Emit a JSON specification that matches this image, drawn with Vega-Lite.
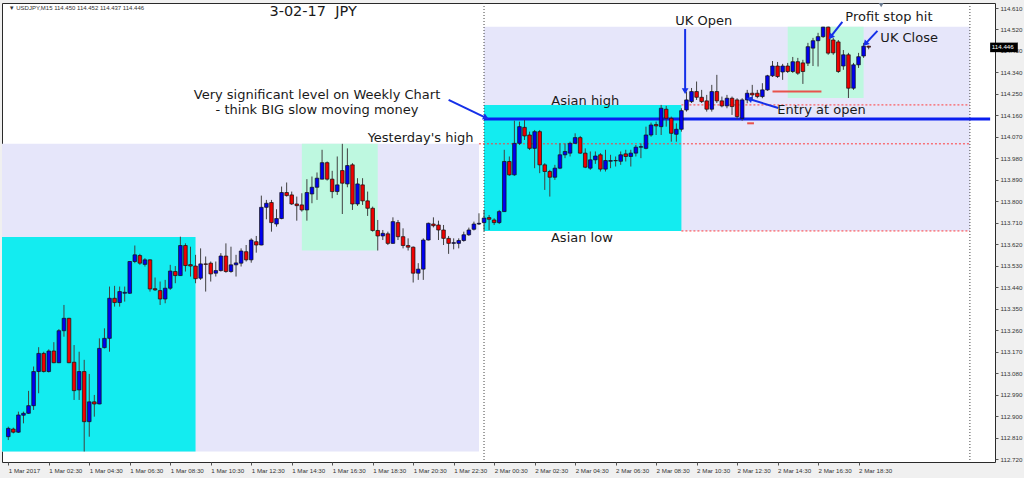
{
"$schema":"https://vega.github.io/schema/vega-lite/v6.json",
"width":993,"height":459,"autosize":"none",
"padding":{"left":2,"top":3,"right":29,"bottom":16},
"background":"#F0F0F0",
"config":{"view":{"fill":"#FFFFFF","stroke":"#2a2a2a","strokeWidth":1},
"axis":{"grid":false,"domain":false,"title":null,"labelFont":"Liberation Sans","labelFontSize":6.2,"labelColor":"#333333","tickColor":"#555555","tickSize":3,"labelOverlap":false,"labelFlush":false,"tickCount":60},
"text":{"font":"DejaVu Sans"}},
"datasets":{
"candles":[
{"t":"2017-03-01 00:30","o":112.814,"h":112.856,"l":112.800,"c":112.849},
{"t":"2017-03-01 00:45","o":112.846,"h":112.852,"l":112.828,"c":112.833},
{"t":"2017-03-01 01:00","o":112.833,"h":112.919,"l":112.830,"c":112.905},
{"t":"2017-03-01 01:15","o":112.904,"h":112.919,"l":112.870,"c":112.912},
{"t":"2017-03-01 01:30","o":112.912,"h":113.006,"l":112.910,"c":112.944},
{"t":"2017-03-01 01:45","o":112.944,"h":113.108,"l":112.926,"c":113.087},
{"t":"2017-03-01 02:00","o":113.087,"h":113.189,"l":112.996,"c":113.163},
{"t":"2017-03-01 02:15","o":113.163,"h":113.170,"l":113.083,"c":113.087},
{"t":"2017-03-01 02:30","o":113.087,"h":113.180,"l":113.083,"c":113.173},
{"t":"2017-03-01 02:45","o":113.173,"h":113.210,"l":113.122,"c":113.124},
{"t":"2017-03-01 03:00","o":113.124,"h":113.265,"l":113.122,"c":113.258},
{"t":"2017-03-01 03:15","o":113.258,"h":113.366,"l":113.233,"c":113.310},
{"t":"2017-03-01 03:30","o":113.310,"h":113.312,"l":113.122,"c":113.124},
{"t":"2017-03-01 03:45","o":113.126,"h":113.198,"l":112.968,"c":113.007},
{"t":"2017-03-01 04:00","o":113.010,"h":113.170,"l":112.968,"c":113.087},
{"t":"2017-03-01 04:15","o":113.087,"h":113.136,"l":112.752,"c":112.877},
{"t":"2017-03-01 04:30","o":112.877,"h":113.077,"l":112.814,"c":112.960},
{"t":"2017-03-01 04:45","o":112.960,"h":112.989,"l":112.898,"c":112.951},
{"t":"2017-03-01 05:00","o":112.951,"h":113.226,"l":112.950,"c":113.184},
{"t":"2017-03-01 05:15","o":113.187,"h":113.268,"l":113.184,"c":113.226},
{"t":"2017-03-01 05:30","o":113.226,"h":113.443,"l":113.170,"c":113.394},
{"t":"2017-03-01 05:45","o":113.394,"h":113.446,"l":113.359,"c":113.376},
{"t":"2017-03-01 06:00","o":113.376,"h":113.443,"l":113.359,"c":113.422},
{"t":"2017-03-01 06:15","o":113.415,"h":113.443,"l":113.380,"c":113.419},
{"t":"2017-03-01 06:30","o":113.415,"h":113.549,"l":113.412,"c":113.548},
{"t":"2017-03-01 06:45","o":113.548,"h":113.615,"l":113.541,"c":113.576},
{"t":"2017-03-01 07:00","o":113.573,"h":113.580,"l":113.534,"c":113.541},
{"t":"2017-03-01 07:15","o":113.536,"h":113.562,"l":113.527,"c":113.555},
{"t":"2017-03-01 07:30","o":113.555,"h":113.557,"l":113.422,"c":113.433},
{"t":"2017-03-01 07:45","o":113.434,"h":113.481,"l":113.425,"c":113.429},
{"t":"2017-03-01 08:00","o":113.426,"h":113.464,"l":113.366,"c":113.391},
{"t":"2017-03-01 08:15","o":113.391,"h":113.471,"l":113.373,"c":113.436},
{"t":"2017-03-01 08:30","o":113.436,"h":113.534,"l":113.429,"c":113.508},
{"t":"2017-03-01 08:45","o":113.506,"h":113.529,"l":113.457,"c":113.489},
{"t":"2017-03-01 09:00","o":113.489,"h":113.652,"l":113.488,"c":113.615},
{"t":"2017-03-01 09:15","o":113.615,"h":113.624,"l":113.506,"c":113.531},
{"t":"2017-03-01 09:30","o":113.535,"h":113.610,"l":113.485,"c":113.529},
{"t":"2017-03-01 09:45","o":113.529,"h":113.576,"l":113.457,"c":113.476},
{"t":"2017-03-01 10:00","o":113.478,"h":113.603,"l":113.471,"c":113.538},
{"t":"2017-03-01 10:15","o":113.538,"h":113.569,"l":113.422,"c":113.536},
{"t":"2017-03-01 10:30","o":113.541,"h":113.548,"l":113.464,"c":113.496},
{"t":"2017-03-01 10:45","o":113.499,"h":113.548,"l":113.485,"c":113.510},
{"t":"2017-03-01 11:00","o":113.510,"h":113.583,"l":113.506,"c":113.571},
{"t":"2017-03-01 11:15","o":113.571,"h":113.624,"l":113.501,"c":113.506},
{"t":"2017-03-01 11:30","o":113.506,"h":113.610,"l":113.501,"c":113.534},
{"t":"2017-03-01 11:45","o":113.534,"h":113.576,"l":113.485,"c":113.542},
{"t":"2017-03-01 12:00","o":113.541,"h":113.603,"l":113.527,"c":113.592},
{"t":"2017-03-01 12:15","o":113.589,"h":113.617,"l":113.548,"c":113.555},
{"t":"2017-03-01 12:30","o":113.555,"h":113.645,"l":113.543,"c":113.638},
{"t":"2017-03-01 12:45","o":113.631,"h":113.655,"l":113.585,"c":113.617},
{"t":"2017-03-01 13:00","o":113.617,"h":113.824,"l":113.616,"c":113.775},
{"t":"2017-03-01 13:15","o":113.775,"h":113.806,"l":113.725,"c":113.792},
{"t":"2017-03-01 13:30","o":113.795,"h":113.806,"l":113.673,"c":113.711},
{"t":"2017-03-01 13:45","o":113.705,"h":113.767,"l":113.694,"c":113.728},
{"t":"2017-03-01 14:00","o":113.728,"h":113.862,"l":113.725,"c":113.837},
{"t":"2017-03-01 14:15","o":113.837,"h":113.879,"l":113.820,"c":113.824},
{"t":"2017-03-01 14:30","o":113.827,"h":113.841,"l":113.785,"c":113.789},
{"t":"2017-03-01 14:45","o":113.789,"h":113.820,"l":113.719,"c":113.782},
{"t":"2017-03-01 15:00","o":113.785,"h":113.834,"l":113.757,"c":113.764},
{"t":"2017-03-01 15:15","o":113.764,"h":113.893,"l":113.719,"c":113.837},
{"t":"2017-03-01 15:30","o":113.831,"h":113.904,"l":113.792,"c":113.859},
{"t":"2017-03-01 15:45","o":113.859,"h":113.921,"l":113.806,"c":113.897},
{"t":"2017-03-01 16:00","o":113.893,"h":114.016,"l":113.892,"c":113.962},
{"t":"2017-03-01 16:15","o":113.962,"h":113.967,"l":113.887,"c":113.893},
{"t":"2017-03-01 16:30","o":113.893,"h":113.928,"l":113.813,"c":113.841},
{"t":"2017-03-01 16:45","o":113.841,"h":113.988,"l":113.827,"c":113.869},
{"t":"2017-03-01 17:00","o":113.929,"h":114.041,"l":113.747,"c":113.876},
{"t":"2017-03-01 17:15","o":113.873,"h":114.022,"l":113.859,"c":113.950},
{"t":"2017-03-01 17:30","o":113.953,"h":113.960,"l":113.764,"c":113.789},
{"t":"2017-03-01 17:45","o":113.789,"h":113.897,"l":113.781,"c":113.873},
{"t":"2017-03-01 18:00","o":113.869,"h":113.897,"l":113.785,"c":113.802},
{"t":"2017-03-01 18:15","o":113.802,"h":113.841,"l":113.739,"c":113.771},
{"t":"2017-03-01 18:30","o":113.771,"h":113.778,"l":113.673,"c":113.678},
{"t":"2017-03-01 18:45","o":113.678,"h":113.722,"l":113.594,"c":113.655},
{"t":"2017-03-01 19:00","o":113.655,"h":113.680,"l":113.638,"c":113.666},
{"t":"2017-03-01 19:15","o":113.664,"h":113.673,"l":113.617,"c":113.624},
{"t":"2017-03-01 19:30","o":113.624,"h":113.733,"l":113.622,"c":113.715},
{"t":"2017-03-01 19:45","o":113.711,"h":113.722,"l":113.638,"c":113.652},
{"t":"2017-03-01 20:00","o":113.652,"h":113.687,"l":113.603,"c":113.615},
{"t":"2017-03-01 20:15","o":113.615,"h":113.645,"l":113.594,"c":113.608},
{"t":"2017-03-01 20:30","o":113.608,"h":113.611,"l":113.460,"c":113.499},
{"t":"2017-03-01 20:45","o":113.499,"h":113.541,"l":113.471,"c":113.516},
{"t":"2017-03-01 21:00","o":113.516,"h":113.645,"l":113.471,"c":113.638},
{"t":"2017-03-01 21:15","o":113.638,"h":113.711,"l":113.636,"c":113.708},
{"t":"2017-03-01 21:30","o":113.705,"h":113.733,"l":113.691,"c":113.698},
{"t":"2017-03-01 21:45","o":113.701,"h":113.719,"l":113.638,"c":113.680},
{"t":"2017-03-01 22:00","o":113.680,"h":113.701,"l":113.617,"c":113.645},
{"t":"2017-03-01 22:15","o":113.645,"h":113.655,"l":113.580,"c":113.624},
{"t":"2017-03-01 22:30","o":113.624,"h":113.645,"l":113.599,"c":113.627},
{"t":"2017-03-01 22:45","o":113.624,"h":113.645,"l":113.603,"c":113.636},
{"t":"2017-03-01 23:00","o":113.636,"h":113.673,"l":113.631,"c":113.660},
{"t":"2017-03-01 23:15","o":113.660,"h":113.690,"l":113.655,"c":113.680},
{"t":"2017-03-01 23:30","o":113.683,"h":113.715,"l":113.678,"c":113.705},
{"t":"2017-03-01 23:45","o":113.705,"h":113.750,"l":113.701,"c":113.708},
{"t":"2017-03-02 00:00","o":113.711,"h":113.764,"l":113.676,"c":113.730},
{"t":"2017-03-02 00:15","o":113.732,"h":113.743,"l":113.680,"c":113.725},
{"t":"2017-03-02 00:30","o":113.722,"h":113.729,"l":113.701,"c":113.711},
{"t":"2017-03-02 00:45","o":113.711,"h":113.764,"l":113.705,"c":113.757},
{"t":"2017-03-02 01:00","o":113.757,"h":114.016,"l":113.756,"c":113.967},
{"t":"2017-03-02 01:15","o":113.967,"h":113.988,"l":113.907,"c":113.911},
{"t":"2017-03-02 01:30","o":113.911,"h":114.138,"l":113.907,"c":114.043},
{"t":"2017-03-02 01:45","o":114.043,"h":114.134,"l":114.036,"c":114.113},
{"t":"2017-03-02 02:00","o":114.110,"h":114.141,"l":114.057,"c":114.074},
{"t":"2017-03-02 02:15","o":114.078,"h":114.092,"l":114.015,"c":114.022},
{"t":"2017-03-02 02:30","o":114.022,"h":114.099,"l":113.939,"c":114.092},
{"t":"2017-03-02 02:45","o":114.092,"h":114.099,"l":113.918,"c":113.953},
{"t":"2017-03-02 03:00","o":113.953,"h":113.960,"l":113.848,"c":113.925},
{"t":"2017-03-02 03:15","o":113.925,"h":113.932,"l":113.820,"c":113.901},
{"t":"2017-03-02 03:30","o":113.901,"h":113.953,"l":113.890,"c":113.939},
{"t":"2017-03-02 03:45","o":113.939,"h":114.043,"l":113.935,"c":113.995},
{"t":"2017-03-02 04:00","o":113.995,"h":114.043,"l":113.981,"c":114.009},
{"t":"2017-03-02 04:15","o":114.002,"h":114.050,"l":113.988,"c":114.043},
{"t":"2017-03-02 04:30","o":114.043,"h":114.085,"l":114.041,"c":114.067},
{"t":"2017-03-02 04:45","o":114.067,"h":114.074,"l":113.999,"c":114.002},
{"t":"2017-03-02 05:00","o":114.002,"h":114.022,"l":113.939,"c":113.943},
{"t":"2017-03-02 05:15","o":113.939,"h":114.009,"l":113.932,"c":113.974},
{"t":"2017-03-02 05:30","o":113.974,"h":114.009,"l":113.957,"c":113.990},
{"t":"2017-03-02 05:45","o":113.995,"h":114.002,"l":113.925,"c":113.935},
{"t":"2017-03-02 06:00","o":113.935,"h":114.016,"l":113.925,"c":113.971},
{"t":"2017-03-02 06:15","o":113.968,"h":113.995,"l":113.939,"c":113.971},
{"t":"2017-03-02 06:30","o":113.971,"h":113.988,"l":113.946,"c":113.970},
{"t":"2017-03-02 06:45","o":113.968,"h":114.009,"l":113.953,"c":113.995},
{"t":"2017-03-02 07:00","o":113.999,"h":114.016,"l":113.967,"c":113.988},
{"t":"2017-03-02 07:15","o":113.988,"h":114.016,"l":113.946,"c":114.002},
{"t":"2017-03-02 07:30","o":114.002,"h":114.036,"l":113.988,"c":114.027},
{"t":"2017-03-02 07:45","o":114.027,"h":114.043,"l":113.981,"c":114.029},
{"t":"2017-03-02 08:00","o":114.022,"h":114.113,"l":114.018,"c":114.078},
{"t":"2017-03-02 08:15","o":114.078,"h":114.130,"l":114.071,"c":114.120},
{"t":"2017-03-02 08:30","o":114.122,"h":114.134,"l":114.078,"c":114.116},
{"t":"2017-03-02 08:45","o":114.113,"h":114.204,"l":114.078,"c":114.190},
{"t":"2017-03-02 09:00","o":114.186,"h":114.200,"l":114.113,"c":114.148},
{"t":"2017-03-02 09:15","o":114.148,"h":114.155,"l":114.050,"c":114.085},
{"t":"2017-03-02 09:30","o":114.081,"h":114.127,"l":114.050,"c":114.102},
{"t":"2017-03-02 09:45","o":114.102,"h":114.190,"l":114.092,"c":114.180},
{"t":"2017-03-02 10:00","o":114.183,"h":114.260,"l":114.176,"c":114.225},
{"t":"2017-03-02 10:15","o":114.218,"h":114.275,"l":114.212,"c":114.260},
{"t":"2017-03-02 10:30","o":114.260,"h":114.302,"l":114.225,"c":114.236},
{"t":"2017-03-02 10:45","o":114.236,"h":114.267,"l":114.212,"c":114.218},
{"t":"2017-03-02 11:00","o":114.221,"h":114.246,"l":114.176,"c":114.186},
{"t":"2017-03-02 11:15","o":114.186,"h":114.288,"l":114.176,"c":114.260},
{"t":"2017-03-02 11:30","o":114.260,"h":114.330,"l":114.212,"c":114.221},
{"t":"2017-03-02 11:45","o":114.221,"h":114.239,"l":114.194,"c":114.200},
{"t":"2017-03-02 12:00","o":114.200,"h":114.246,"l":114.190,"c":114.232},
{"t":"2017-03-02 12:15","o":114.232,"h":114.239,"l":114.162,"c":114.197},
{"t":"2017-03-02 12:30","o":114.225,"h":114.232,"l":114.144,"c":114.155},
{"t":"2017-03-02 12:45","o":114.148,"h":114.232,"l":114.138,"c":114.225},
{"t":"2017-03-02 13:00","o":114.225,"h":114.267,"l":114.211,"c":114.253},
{"t":"2017-03-02 13:15","o":114.253,"h":114.288,"l":114.225,"c":114.246},
{"t":"2017-03-02 13:30","o":114.253,"h":114.267,"l":114.232,"c":114.239},
{"t":"2017-03-02 13:45","o":114.239,"h":114.295,"l":114.232,"c":114.267},
{"t":"2017-03-02 14:00","o":114.267,"h":114.330,"l":114.263,"c":114.326},
{"t":"2017-03-02 14:15","o":114.326,"h":114.388,"l":114.321,"c":114.367},
{"t":"2017-03-02 14:30","o":114.367,"h":114.384,"l":114.317,"c":114.323},
{"t":"2017-03-02 14:45","o":114.342,"h":114.376,"l":114.309,"c":114.367},
{"t":"2017-03-02 15:00","o":114.367,"h":114.380,"l":114.338,"c":114.344},
{"t":"2017-03-02 15:15","o":114.344,"h":114.405,"l":114.338,"c":114.385},
{"t":"2017-03-02 15:30","o":114.385,"h":114.401,"l":114.330,"c":114.337},
{"t":"2017-03-02 15:45","o":114.380,"h":114.393,"l":114.292,"c":114.344},
{"t":"2017-03-02 16:00","o":114.379,"h":114.464,"l":114.367,"c":114.448},
{"t":"2017-03-02 16:15","o":114.442,"h":114.485,"l":114.367,"c":114.473},
{"t":"2017-03-02 16:30","o":114.473,"h":114.506,"l":114.365,"c":114.490},
{"t":"2017-03-02 16:45","o":114.490,"h":114.531,"l":114.485,"c":114.530},
{"t":"2017-03-02 17:00","o":114.530,"h":114.532,"l":114.414,"c":114.421},
{"t":"2017-03-02 17:15","o":114.476,"h":114.485,"l":114.414,"c":114.422},
{"t":"2017-03-02 17:30","o":114.468,"h":114.476,"l":114.338,"c":114.344},
{"t":"2017-03-02 17:45","o":114.367,"h":114.434,"l":114.351,"c":114.414},
{"t":"2017-03-02 18:00","o":114.414,"h":114.422,"l":114.233,"c":114.274},
{"t":"2017-03-02 18:15","o":114.274,"h":114.380,"l":114.267,"c":114.372},
{"t":"2017-03-02 18:30","o":114.372,"h":114.422,"l":114.359,"c":114.406},
{"t":"2017-03-02 18:45","o":114.409,"h":114.464,"l":114.401,"c":114.450},
{"t":"2017-03-02 19:00","o":114.450,"h":114.452,"l":114.437,"c":114.446}
],
"boxes":[
{"kind":"lav","t1":"2017-03-01 00:00","t2":"2017-03-01 23:45","p1":112.752,"p2":114.041},
{"kind":"lav","t1":"2017-03-02 00:00","t2":"2017-03-03 00:00","p1":113.676,"p2":114.532},
{"kind":"cyan","t1":"2017-03-01 00:00","t2":"2017-03-01 09:45","p1":112.752,"p2":113.651},
{"kind":"cyan","t1":"2017-03-02 00:00","t2":"2017-03-02 09:45","p1":113.676,"p2":114.204},
{"kind":"mint","t1":"2017-03-01 15:00","t2":"2017-03-01 18:45","p1":113.594,"p2":114.041},
{"kind":"mint","t1":"2017-03-02 15:00","t2":"2017-03-02 18:45","p1":114.233,"p2":114.532}
],
"dots":[
{"t1":"2017-03-01 23:45","t2":"2017-03-03 00:00","p":114.041},
{"t1":"2017-03-02 09:45","t2":"2017-03-03 00:00","p":114.204},
{"t1":"2017-03-02 09:45","t2":"2017-03-03 00:00","p":113.676}
],
"days":[{"t":"2017-03-02 00:00"},{"t":"2017-03-03 00:00"}],
"level":[{"t1":"2017-03-02 00:00","t2":"2017-03-03 01:00","p":114.145}],
"marks":[
{"t1":"2017-03-02 14:15","t2":"2017-03-02 16:40","p":114.260},
{"t1":"2017-03-02 13:00","t2":"2017-03-02 13:20","p":114.127}
],
"arrows":[
{"a":"weekly","t1":"2017-03-01 22:15","p1":114.225,"t2":"2017-03-02 00:06","p2":114.150},
{"a":"ukopen","t1":"2017-03-02 09:56","p1":114.522,"t2":"2017-03-02 09:56","p2":114.262},
{"a":"profit","t1":"2017-03-02 17:42","p1":114.552,"t2":"2017-03-02 17:07","p2":114.489},
{"a":"ukclose","t1":"2017-03-02 19:26","p1":114.514,"t2":"2017-03-02 18:50","p2":114.460},
{"a":"entry","t1":"2017-03-02 14:32","p1":114.191,"t2":"2017-03-02 13:06","p2":114.229}
],
"notes":[
{"txt":"Very significant level on Weekly Chart","t":"2017-03-01 15:45","p":114.246},
{"txt":"- think BIG slow moving money","t":"2017-03-01 15:45","p":114.183},
{"txt":"Asian high","t":"2017-03-02 05:00","p":114.221},
{"txt":"Yesterday's high","t":"2017-03-01 20:52","p":114.066},
{"txt":"Asian low","t":"2017-03-02 04:50","p":113.647},
{"txt":"UK Open","t":"2017-03-02 10:51","p":114.556},
{"txt":"Profit stop hit","t":"2017-03-02 20:00","p":114.573},
{"txt":"UK Close","t":"2017-03-02 21:00","p":114.485},
{"txt":"Entry at open","t":"2017-03-02 16:40","p":114.183}
],
"title":[{"txt":"3-02-17\u00a0\u00a0JPY","t":"2017-03-01 13:24","p":114.594}],
"header":[{"txt":"\u25bc USDJPY,M15  114.450 114.452 114.437 114.446","t":"2017-03-01 00:31","p":114.610}],
"pricebox":[{"t1":"2017-03-03 01:00","t2":"2017-03-03 02:22","tl":"2017-03-03 01:05","p1":114.425,"p2":114.465,"p":114.446,"txt":"114.446"}],
"shift":[{"t":"2017-03-02 19:37","p":114.622}]
},
"layer":[
{"data":{"name":"boxes","format":{"parse":{"t1":"utc:'%Y-%m-%d %H:%M'","t2":"utc:'%Y-%m-%d %H:%M'"}}},
 "mark":{"type":"rect","clip":true},
 "encoding":{
  "x":{"field":"t1","type":"temporal","scale":{"type":"utc","domain":[1488327970900,1488502776000]},
   "axis":{"orient":"bottom","values":[1488328200000,1488335400000,1488342600000,1488349800000,1488357000000,1488364200000,1488371400000,1488378600000,1488385800000,1488393000000,1488400200000,1488407400000,1488414600000,1488421800000,1488429000000,1488436200000,1488443400000,1488450600000,1488457800000,1488465000000,1488472200000,1488479400000],
   "labelExpr":"utcFormat(datum.value,'%d %H:%M')=='01 00:30' ? '1 Mar 2017' : utcFormat(datum.value,'%-d %b %H:%M')",
   "labelAlign":"left","labelFlush":false,"labelOverlap":false,"labelPadding":2,"tickCount":60}},
  "x2":{"field":"t2"},
  "y":{"field":"p1","type":"quantitative","scale":{"domain":[112.708,114.631],"nice":false,"zero":false},
   "axis":{"orient":"right","values":[112.72,112.81,112.90,112.99,113.08,113.17,113.26,113.35,113.44,113.53,113.62,113.71,113.80,113.89,113.98,114.07,114.16,114.25,114.34,114.43,114.52,114.61],
   "format":".3f","labelAlign":"left","labelPadding":2,"labelOverlap":false,"labelBaseline":"middle","tickCount":60}},
  "y2":{"field":"p2"},
  "color":{"field":"kind","type":"nominal","scale":{"domain":["lav","cyan","mint"],"range":["#E6E6FA","#13ECF0","#BEF8E0"]},"legend":null}
 }},
{"data":{"name":"days","format":{"parse":{"t":"utc:'%Y-%m-%d %H:%M'"}}},
 "mark":{"type":"rule","color":"#444444","strokeDash":[1,2],"strokeWidth":1},
 "encoding":{"x":{"field":"t","type":"temporal","scale":{"type":"utc"}}}},
{"data":{"name":"dots","format":{"parse":{"t1":"utc:'%Y-%m-%d %H:%M'","t2":"utc:'%Y-%m-%d %H:%M'"}}},
 "mark":{"type":"rule","color":"#FF3B3B","strokeDash":[2,2],"strokeWidth":1},
 "encoding":{"x":{"field":"t1","type":"temporal","scale":{"type":"utc"}},"x2":{"field":"t2"},
  "y":{"field":"p","type":"quantitative"}}},
{"mark":{"type":"rule","color":"#A0A0A0","strokeWidth":1},
 "encoding":{"y":{"datum":114.446,"type":"quantitative"}}},
{"data":{"name":"level","format":{"parse":{"t1":"utc:'%Y-%m-%d %H:%M'","t2":"utc:'%Y-%m-%d %H:%M'"}}},
 "mark":{"type":"rule","color":"#0A1EF0","strokeWidth":3},
 "encoding":{"x":{"field":"t1","type":"temporal","scale":{"type":"utc"}},"x2":{"field":"t2"},
  "y":{"field":"p","type":"quantitative"}}},
{"data":{"name":"candles","format":{"parse":{"t":"utc:'%Y-%m-%d %H:%M'"}}},
 "layer":[
 {"mark":{"type":"rule","color":"#404040","strokeWidth":1,"clip":true},
  "encoding":{"x":{"field":"t","type":"temporal","scale":{"type":"utc"}},
   "y":{"field":"l","type":"quantitative"},"y2":{"field":"h"}}},
 {"mark":{"type":"bar","size":3.6,"stroke":"#111111","strokeWidth":0.7,"clip":true},
  "encoding":{"x":{"field":"t","type":"temporal","scale":{"type":"utc"}},
   "y":{"field":"o","type":"quantitative"},"y2":{"field":"c"},
   "color":{"condition":{"test":"datum.c >= datum.o","value":"#0000F0"},"value":"#F00000"}}}
 ]},
{"data":{"name":"marks","format":{"parse":{"t1":"utc:'%Y-%m-%d %H:%M'","t2":"utc:'%Y-%m-%d %H:%M'"}}},
 "mark":{"type":"rule","color":"#E8524C","strokeWidth":2},
 "encoding":{"x":{"field":"t1","type":"temporal","scale":{"type":"utc"}},"x2":{"field":"t2"},
  "y":{"field":"p","type":"quantitative"}}},
{"data":{"name":"arrows","format":{"parse":{"t1":"utc:'%Y-%m-%d %H:%M'","t2":"utc:'%Y-%m-%d %H:%M'"}}},
 "layer":[
 {"mark":{"type":"rule","color":"#1530E8","strokeWidth":2},
  "encoding":{"x":{"field":"t1","type":"temporal","scale":{"type":"utc"}},"x2":{"field":"t2"},
   "y":{"field":"p1","type":"quantitative"},"y2":{"field":"p2"}}},
 {"transform":[{"filter":"datum.a=='weekly'"}],
  "mark":{"type":"point","shape":"triangle-up","angle":115,"size":45,"filled":true,"color":"#1530E8","opacity":1},
  "encoding":{"x":{"field":"t2","type":"temporal","scale":{"type":"utc"}},"y":{"field":"p2","type":"quantitative"}}},
 {"transform":[{"filter":"datum.a=='ukopen'"}],
  "mark":{"type":"point","shape":"triangle-up","angle":180,"size":45,"filled":true,"color":"#1530E8","opacity":1},
  "encoding":{"x":{"field":"t2","type":"temporal","scale":{"type":"utc"}},"y":{"field":"p2","type":"quantitative"}}},
 {"transform":[{"filter":"datum.a=='profit'"}],
  "mark":{"type":"point","shape":"triangle-up","angle":219,"size":45,"filled":true,"color":"#1530E8","opacity":1},
  "encoding":{"x":{"field":"t2","type":"temporal","scale":{"type":"utc"}},"y":{"field":"p2","type":"quantitative"}}},
 {"transform":[{"filter":"datum.a=='ukclose'"}],
  "mark":{"type":"point","shape":"triangle-up","angle":223,"size":45,"filled":true,"color":"#1530E8","opacity":1},
  "encoding":{"x":{"field":"t2","type":"temporal","scale":{"type":"utc"}},"y":{"field":"p2","type":"quantitative"}}},
 {"transform":[{"filter":"datum.a=='entry'"}],
  "mark":{"type":"point","shape":"triangle-up","angle":287,"size":45,"filled":true,"color":"#1530E8","opacity":1},
  "encoding":{"x":{"field":"t2","type":"temporal","scale":{"type":"utc"}},"y":{"field":"p2","type":"quantitative"}}}
 ]},
{"data":{"name":"notes","format":{"parse":{"t":"utc:'%Y-%m-%d %H:%M'"}}},
 "mark":{"type":"text","fontSize":13,"font":"DejaVu Sans","color":"#1a1a1a","align":"center","baseline":"middle"},
 "encoding":{"x":{"field":"t","type":"temporal","scale":{"type":"utc"}},"y":{"field":"p","type":"quantitative"},"text":{"field":"txt"}}},
{"data":{"name":"title","format":{"parse":{"t":"utc:'%Y-%m-%d %H:%M'"}}},
 "mark":{"type":"text","fontSize":14.5,"font":"DejaVu Sans","color":"#1a1a1a","align":"left","baseline":"middle"},
 "encoding":{"x":{"field":"t","type":"temporal","scale":{"type":"utc"}},"y":{"field":"p","type":"quantitative"},"text":{"field":"txt"}}},
{"data":{"name":"header","format":{"parse":{"t":"utc:'%Y-%m-%d %H:%M'"}}},
 "mark":{"type":"text","fontSize":6,"font":"Liberation Sans","color":"#333333","align":"left","baseline":"middle"},
 "encoding":{"x":{"field":"t","type":"temporal","scale":{"type":"utc"}},"y":{"field":"p","type":"quantitative"},"text":{"field":"txt"}}},
{"data":{"name":"shift","format":{"parse":{"t":"utc:'%Y-%m-%d %H:%M'"}}},
 "mark":{"type":"point","shape":"triangle-down","size":25,"filled":true,"color":"#6A7A90","opacity":1},
 "encoding":{"x":{"field":"t","type":"temporal","scale":{"type":"utc"}},"y":{"field":"p","type":"quantitative"}}},
{"data":{"name":"pricebox","format":{"parse":{"t1":"utc:'%Y-%m-%d %H:%M'","t2":"utc:'%Y-%m-%d %H:%M'","tl":"utc:'%Y-%m-%d %H:%M'"}}},
 "layer":[
 {"mark":{"type":"rect","color":"#000000"},
  "encoding":{"x":{"field":"t1","type":"temporal","scale":{"type":"utc"}},"x2":{"field":"t2"},
   "y":{"field":"p1","type":"quantitative"},"y2":{"field":"p2"}}},
 {"mark":{"type":"text","fontSize":6.2,"font":"Liberation Sans","color":"#FFFFFF","align":"left","baseline":"middle"},
  "encoding":{"x":{"field":"tl","type":"temporal","scale":{"type":"utc"}},"y":{"field":"p","type":"quantitative"},"text":{"field":"txt"}}}
 ]}
]
}
